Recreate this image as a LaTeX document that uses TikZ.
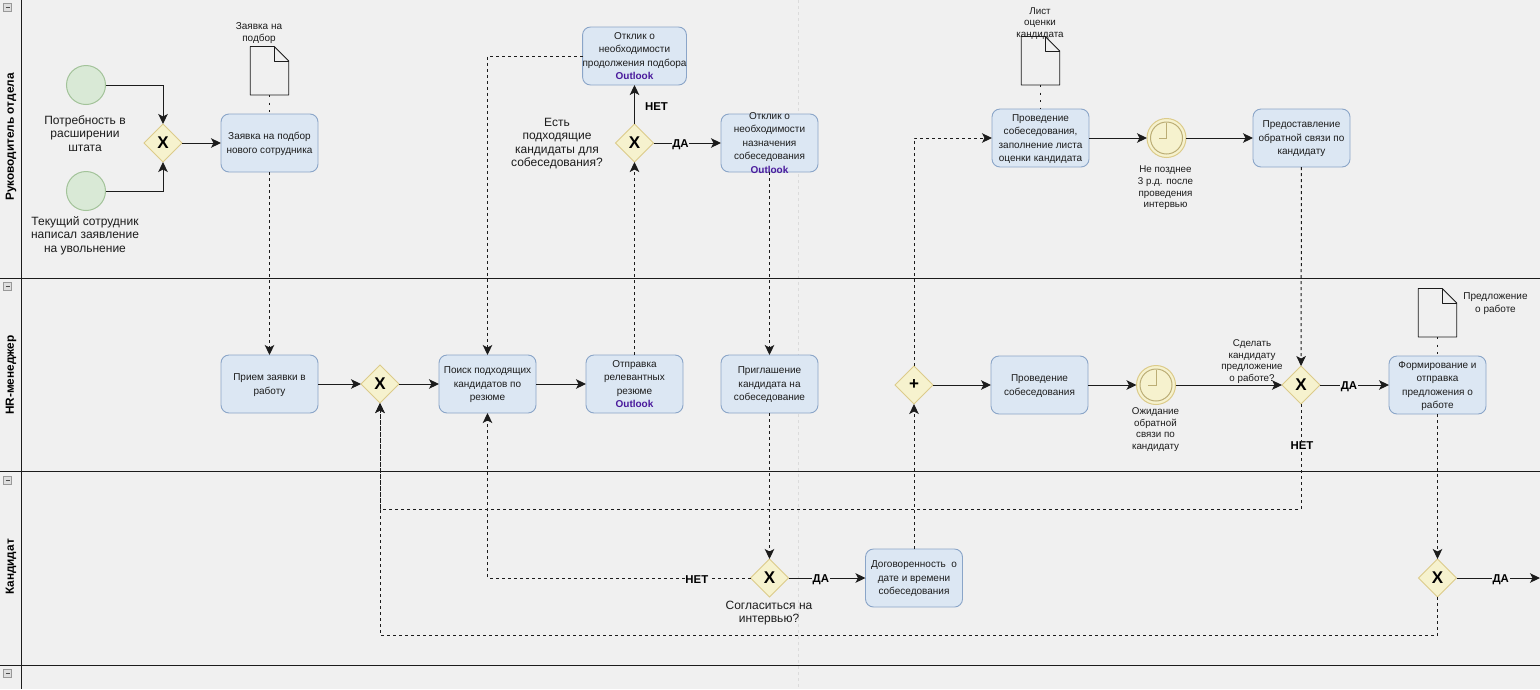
\documentclass[tikz,border=0pt]{standalone}
\usepackage{fontspec}
\setmainfont{Liberation Sans}
\usetikzlibrary{positioning,shapes.geometric,arrows.meta}
\definecolor{pagebg}{HTML}{F0F0F0}
\definecolor{taskfill}{HTML}{DCE7F3}
\definecolor{taskline}{HTML}{8AA5C8}
\definecolor{gatefill}{HTML}{F6F2CE}
\definecolor{gateline}{HTML}{DCCB8A}
\definecolor{startfill}{HTML}{D9E9D6}
\definecolor{startline}{HTML}{A3C39A}
\definecolor{outlookc}{HTML}{4A1A9C}
\definecolor{inkc}{HTML}{1C1C1C}
\tikzset{
  every node/.append style={outer sep=0pt},
  taskbox/.style={draw=taskline, fill=taskfill, rounded corners=8pt, line width=0.9pt, minimum width=97pt, minimum height=58pt, inner xsep=0pt, inner ysep=-10pt, align=center, text=inkc, font=\fontsize{10}{13.5}\selectfont, text depth=-3pt},
  gatebox/.style={diamond, shape aspect=1, draw=gateline, fill=gatefill, line width=1pt, minimum size=38pt, inner sep=0pt, text=black, font=\fontsize{17}{17}\selectfont\bfseries},
  startev/.style={circle, draw=startline, fill=startfill, line width=1pt, minimum size=39pt, inner sep=0pt},
  timerev/.style={circle, draw=gateline, fill=gatefill, line width=1pt, minimum size=39pt, inner sep=0pt},
  docbox/.style={rectangle, minimum width=38.5pt, minimum height=48.5pt, inner sep=0pt},
  note/.style={align=center, inner sep=0pt, text=inkc, font=\fontsize{12}{13.5}\selectfont},
  smallnote/.style={align=center, inner sep=0pt, text=inkc, font=\fontsize{9.8}{11.7}\selectfont},
  lanetitle/.style={rotate=90, inner sep=0pt, text=black, font=\fontsize{11.8}{13}\selectfont\bfseries},
  edgelabel/.style={fill=pagebg, inner sep=0.6pt, yshift=-1.8pt, text=black, font=\fontsize{11.4}{13}\selectfont\bfseries},
  flow/.style={draw=inkc, line width=1pt, -{Stealth[length=10pt,width=9.5pt,inset=2.5pt]}},
  msg/.style={flow, dash pattern=on 3pt off 3pt},
  assoc/.style={draw=inkc, line width=1.5pt, dash pattern=on 2pt off 5.5pt},
  laneline/.style={draw=inkc, line width=1pt},
  docline/.style={draw=inkc, line width=0.9pt},
}
\newcommand{\outlook}{{\color{outlookc}\bfseries Outlook}}
\begin{document}
\begin{tikzpicture}[x=1pt,y=-1pt]
\useasboundingbox (0,0) rectangle (1540,689);
\fill[pagebg] (0,0) rectangle (1540,689);
\draw[black!14, line width=1pt, dash pattern=on 3pt off 3pt] (798,0) -- (798,689);
\draw[laneline] (21.5,0) -- (21.5,689);
\foreach \y in {278,471.5,665} \draw[laneline] (0,\y) -- (1540,\y);
\foreach \y in {7,286.5,480,673.5} {
  \draw[black!40, fill=black!13, line width=0.8pt] (3.5,\y-4) rectangle (11.5,\y+4);
  \draw[black!70, line width=1pt] (5.5,\y) -- (9.5,\y);
}
\node[lanetitle] (lane1) at (11,137) {Руководитель отдела};
\node[lanetitle] (lane2) at (11,375) {HR-менеджер};
\node[lanetitle] (lane3) at (11,567) {Кандидат};

\node[startev] (need) at (86,85) {};
\node[startev, below=67pt of need] (leave) {};
\node[note] (needtxt) at (85,133.5) {Потребность в\\расширении\\штата};
\node[note] (leavetxt) at (85,235.5) {Текущий сотрудник\\написал заявление\\на увольнение};
\node[gatebox] (gwjoin) at (163,143) {X};
\node[taskbox, right=39pt of gwjoin] (request) {Заявка на подбор\\нового сотрудника};
\node[docbox, above=19pt of request] (docreq) {};
\node[smallnote, font=\fontsize{10}{12}\selectfont] (docreqtxt) at (259,33) {Заявка на\\подбор};

\node[taskbox, below=183pt of request] (accept) {Прием заявки в\\работу};
\node[gatebox, right=43pt of accept] (gwcheck) {X};
\node[taskbox, right=40pt of gwcheck] (search) {Поиск подходящих\\кандидатов по\\резюме};
\node[taskbox, right=50pt of search] (send) {Отправка\\релевантных\\резюме\\\outlook};
\node[gatebox, above=193pt of send] (gwfound) {X};
\node[taskbox, above=39pt of gwfound] (replymore) {Отклик о\\необходимости\\продолжения подбора\\\outlook};
\node[taskbox, right=67.5pt of gwfound] (replyset) {Отклик о\\необходимости\\назначения\\собеседования\\\outlook};
\node[note] (foundtxt) at (557,143.5) {Есть\\подходящие\\кандидаты для\\собеседования?};
\node[taskbox, right=38pt of send] (invite) {Приглашение\\кандидата на\\собеседование};
\node[gatebox, below=146pt of invite] (gwagree) {X};
\node[note] (agreetxt) at (769,613) {Согласиться на\\интервью?};
\node[taskbox, right=77pt of gwagree] (agree) {Договоренность\ \ о\\дате и времени\\собеседования};
\node[gatebox, above=145pt of agree] (gwplus) {+};

\node[taskbox, right=58pt of gwplus] (meet) {Проведение\\собеседования};
\node[timerev, right=48.5pt of meet] (wait) {};
\node[smallnote] (waittxt) at (1155.5,429.5) {Ожидание\\обратной\\связи по\\кандидату};
\node[gatebox, right=106.5pt of wait] (gwoffer) {X};
\node[smallnote] (offertxt) at (1252,361.5) {Сделать\\кандидату\\предложение\\о работе?};
\node[taskbox, right=69pt of gwoffer] (offer) {Формирование и\\отправка\\предложения о\\работе};
\node[docbox, above=19pt of offer] (docoffer) {};
\node[smallnote, font=\fontsize{10}{13.5}\selectfont] (docoffertxt) at (1495.5,303.5) {Предложение\\о работе};
\node[gatebox, below=145pt of offer] (gwfinal) {X};

\node[taskbox] (interview) at (1040.5,138) {Проведение\\собеседования,\\заполнение листа\\оценки кандидата};
\node[docbox, above=24pt of interview] (docsheet) {};
\node[smallnote] (docsheettxt) at (1040,23.5) {Лист\\оценки\\кандидата};
\node[timerev, right=58pt of interview] (limit) {};
\node[smallnote] (limittxt) at (1165.5,188) {Не позднее\\3 р.д. после\\проведения\\интервью};
\node[taskbox, right=67pt of limit] (feedback) {Предоставление\\обратной связи по\\кандидату};

\foreach \d in {docreq,docsheet,docoffer} {
  \draw[docline, line join=round] (\d.south west) -- (\d.north west) -- ([xshift=-14.5pt]\d.north east) -- ([yshift=-14.5pt]\d.north east) -- (\d.south east) -- cycle;
  \draw[docline, line join=round] ([xshift=-14.5pt]\d.north east) -- ([xshift=-14.5pt,yshift=-14.5pt]\d.north east) -- ([yshift=-14.5pt]\d.north east);
}
\foreach \t in {limit,wait} {
  \draw[gateline!85!black, line width=1pt] (\t) circle (16pt);
  \draw[gateline!85!black, line width=1pt] ([yshift=15pt]\t.center) -- (\t.center) -- ([xshift=-8pt]\t.center);
}

\coordinate (turnno) at (gwoffer |- 0,509);
\coordinate (turnfin) at (gwfinal |- 0,635);
\coordinate (outend) at (gwfinal -| 1540,0);

\draw[flow] (need) -| (gwjoin);
\draw[flow] (leave) -| (gwjoin);
\draw[flow] (gwjoin) -- (request);
\draw[assoc] (docreq) -- (request);
\draw[msg] (request) -- (accept);
\draw[flow] (accept) -- (gwcheck);
\draw[flow] (gwcheck) -- (search);
\draw[flow] (search) -- (send);
\draw[msg] (send) -- (gwfound);
\draw[flow] (gwfound) -- node[edgelabel, right=10pt, fill=none] (lblno1) {НЕТ} (replymore);
\draw[flow] (gwfound) -- node[edgelabel, pos=0.4] (lblyes1) {ДА} (replyset);
\draw[msg] (replymore) -| (search);
\draw[msg] (replyset) -- (invite);
\draw[msg] (invite) -- (gwagree);
\draw[msg] (gwagree) -| node[edgelabel, pos=0.102] (lblno2) {НЕТ} (search);
\draw[flow] (gwagree) -- node[edgelabel, pos=0.42] (lblyes2) {ДА} (agree);
\draw[msg] (agree) -- (gwplus);
\draw[msg] (gwplus) |- (interview);
\draw[flow] (gwplus) -- (meet);
\draw[flow] (meet) -- (wait);
\draw[flow] (wait) -- (gwoffer);
\draw[assoc] (docsheet) -- (interview);
\draw[flow] (interview) -- (limit);
\draw[flow] (limit) -- (feedback);
\draw[msg] (feedback) -- (gwoffer);
\draw[flow] (gwoffer) -- node[edgelabel, pos=0.42] (lblyes3) {ДА} (offer);
\draw[assoc] (docoffer) -- (offer);
\draw[msg] (offer) -- (gwfinal);
\draw[msg] (gwoffer) -- node[edgelabel, pos=0.376, xshift=1pt] (lblno3) {НЕТ} (turnno) -| (gwcheck);
\draw[msg] (gwfinal) -- (turnfin) -| (gwcheck);
\draw[flow] (gwfinal) -- node[edgelabel, pos=0.53] (lblyes4) {ДА} (outend);
\end{tikzpicture}
\end{document}
